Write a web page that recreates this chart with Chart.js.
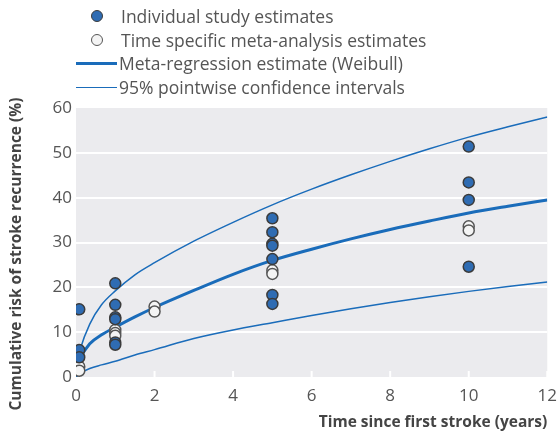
<!DOCTYPE html>
<html>
<head>
<meta charset="utf-8">
<script src="https://cdn.jsdelivr.net/npm/chart.js@4"></script>
<style>
  html, body { margin: 0; padding: 0; background: #fff; }
  #wrap { position: relative; width: 558px; height: 436px; }
  #legend { position: absolute; left: 0; top: 0; font-family: "Open Sans", sans-serif; font-size: 17.5px; color: #555; }
  .row { position: absolute; left: 0; height: 22px; line-height: 22px; white-space: nowrap; }
  .mark { position: absolute; top: 5px; width: 10px; height: 10px; border-radius: 50%; }
  .ln { position: absolute; left: 76px; width: 41px; background: #1a6cba; }
</style>
</head>
<body>
<div id="wrap">
  <canvas id="chart" width="558" height="436"></canvas>
  <div id="legend">
    <div class="row" style="top:5px"><span class="mark" style="left:91px;background:#2f6cb3;border:1.5px solid #3b3b3b"></span><span style="position:absolute;left:121px">Individual study estimates</span></div>
    <div class="row" style="top:28.5px"><span class="mark" style="left:91px;background:#f4f4f4;border:1.5px solid #555"></span><span style="position:absolute;left:121px">Time specific meta-analysis estimates</span></div>
    <div class="row" style="top:52px"><span class="ln" style="top:10px;height:3px"></span><span style="position:absolute;left:119px">Meta-regression estimate (Weibull)</span></div>
    <div class="row" style="top:75.5px"><span class="ln" style="top:11px;height:1.5px"></span><span style="position:absolute;left:119px">95% pointwise confidence intervals</span></div>
  </div>
</div>
<script>
// Curve readings (time in years, risk in %)
const curveTimes = [0, 0.02, 0.1, 0.35, 0.65, 1, 1.5, 2, 3, 4, 5, 6, 7, 8, 9, 10, 11, 12];
const metaRegression = [0, 1.8, 4.0, 7.4, 9.4, 11.1, 13.4, 15.5, 19.3, 22.9, 26.0, 28.5, 30.8, 32.9, 34.8, 36.6, 38.1, 39.5];
const upperCI = [0, 3.0, 6.0, 11.8, 16.1, 19.2, 22.8, 25.5, 30.3, 34.5, 38.4, 41.9, 45.1, 48.1, 50.9, 53.5, 55.8, 58.0];
const lowerCI = [0, 0.2, 0.8, 1.9, 2.7, 3.5, 4.9, 6.1, 8.6, 10.5, 12.1, 13.7, 15.2, 16.6, 17.9, 19.1, 20.2, 21.2];

// Individual study estimates
const studyTimes = [0.083, 0.083, 0.083, 1, 1, 1, 1, 1, 1, 5, 5, 5, 5, 5, 5, 5, 10, 10, 10, 10];
const studyRisk = [15.1, 6.0, 4.4, 20.9, 16.1, 13.3, 12.9, 7.7, 7.2, 35.4, 32.3, 29.7, 29.3, 26.3, 18.3, 16.3, 51.4, 43.4, 39.5, 24.6];

// Time specific meta-analysis estimates
const metaTimes = [0.083, 0.083, 1, 1, 1, 2, 2, 5, 5, 10, 10];
const metaRisk = [2.3, 1.4, 10.5, 9.8, 9.2, 15.7, 14.6, 23.8, 23.0, 33.6, 32.7];

const xTicks = [0, 2, 4, 6, 8, 10, 12];
const yTitle = "Cumulative risk of stroke recurrence (%)";

const pts = (xs, ys) => xs.map((x, i) => ({ x: x, y: ys[i] }));
const FONT = "'Open Sans', sans-serif";
const BLUE = "#1a6cba";

const panelBg = {
    id: "panelBg",
    beforeDraw(chart) {
        const a = chart.chartArea, c = chart.ctx;
        c.save();
        c.fillStyle = "#ebebee";
        c.fillRect(a.left, a.top, a.right - a.left, a.bottom - a.top);
        c.restore();
    },
    beforeDatasetsDraw(chart) {
        const a = chart.chartArea, c = chart.ctx, xs = chart.scales.x;
        c.save();
        c.strokeStyle = "#fff";
        c.lineWidth = 2;
        xTicks.forEach(t => {
            const px = xs.getPixelForValue(t);
            c.beginPath();
            c.moveTo(px, a.bottom);
            c.lineTo(px, a.bottom - 6);
            c.stroke();
        });
        c.restore();
    },
    afterDraw(chart) {
        // y axis title, sits a little below the panel centre in the original
        const c = chart.ctx;
        c.save();
        c.translate(17, 254);
        c.rotate(-Math.PI / 2);
        c.fillStyle = "#444";
        c.font = "bold 15.5px " + FONT;
        c.textAlign = "center";
        c.textBaseline = "middle";
        c.fillText(yTitle, 0, 0);
        c.restore();
    }
};

new Chart(document.getElementById("chart"), {
    type: "scatter",
    data: {
        datasets: [
            { data: pts(curveTimes, upperCI), showLine: true, borderColor: BLUE, borderWidth: 1.5, pointRadius: 0, cubicInterpolationMode: "monotone", order: 3 },
            { data: pts(curveTimes, lowerCI), showLine: true, borderColor: BLUE, borderWidth: 1.5, pointRadius: 0, cubicInterpolationMode: "monotone", order: 3 },
            { data: pts(curveTimes, metaRegression), showLine: true, borderColor: BLUE, borderWidth: 3, pointRadius: 0, cubicInterpolationMode: "monotone", order: 2 },
            { data: pts(metaTimes, metaRisk), pointRadius: 5.5, pointBackgroundColor: "#f4f4f4", pointBorderColor: "#555", pointBorderWidth: 1.5, order: 1 },
            { data: pts(studyTimes, studyRisk), pointRadius: 5.5, pointBackgroundColor: "#2f6cb3", pointBorderColor: "#3b3b3b", pointBorderWidth: 1.5, order: 0 }
        ]
    },
    options: {
        responsive: false,
        animation: false,
        layout: { padding: { top: 108, right: 9, left: 0, bottom: 0 } },
        plugins: { legend: { display: false }, tooltip: { enabled: false } },
        scales: {
            x: {
                type: "linear", min: 0, max: 12,
                afterFit: s => { s.height = 59; },
                afterBuildTicks: s => { s.ticks = xTicks.map(v => ({ value: v })); },
                grid: { display: false },
                border: { display: false },
                ticks: { color: "#555", font: { family: FONT, size: 17 }, padding: 1 },
                title: { display: true, text: "Time since first stroke (years)", align: "end", color: "#444", font: { family: FONT, size: 15.5, weight: "bold" }, padding: { top: 6, bottom: 4 } }
            },
            y: {
                min: 0, max: 60,
                afterFit: s => { s.width = 76; },
                grid: { color: c => (c.tick.value > 0 && c.tick.value < 60) ? "#fff" : "rgba(0,0,0,0)", lineWidth: 2, drawTicks: false },
                border: { display: false },
                ticks: { stepSize: 10, color: "#555", font: { family: FONT, size: 17 }, padding: 4 }
            }
        }
    },
    plugins: [panelBg]
});
</script>
</body>
</html>
